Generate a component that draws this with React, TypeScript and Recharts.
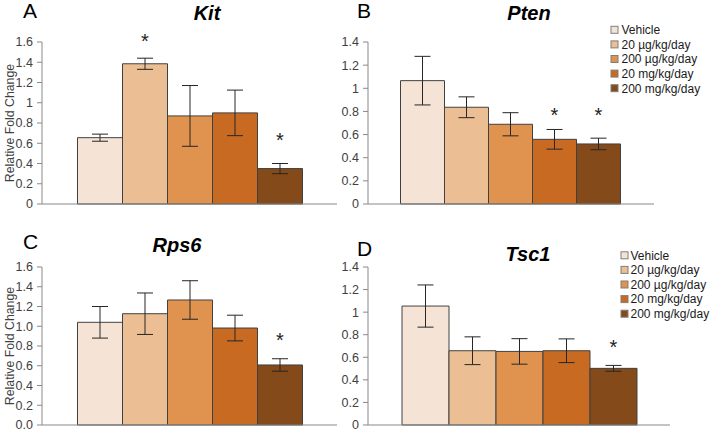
import { BarChart, Bar, XAxis, YAxis, ErrorBar, LabelList, Label } from "recharts";

const categories = ["Vehicle", "20 µg/kg/day", "200 µg/kg/day", "20 mg/kg/day", "200 mg/kg/day"];
const colours = ["#F5E4D6", "#EBBF93", "#E0934F", "#C86A22", "#844A1A"];

// mean fold change, SEM, and height of the significance star (null = none)
const kitMean = [0.655, 1.385, 0.87, 0.9, 0.35];
const kitErr = [0.035, 0.055, 0.3, 0.225, 0.05];
const kitStars = [null, 1.65, null, null, 0.67];

const ptenMean = [1.066, 0.836, 0.689, 0.559, 0.519];
const ptenErr = [0.21, 0.09, 0.1, 0.085, 0.05];
const ptenStars = [null, null, null, 0.8, 0.8];

const rps6Mean = [1.04, 1.127, 1.266, 0.982, 0.608];
const rps6Err = [0.16, 0.21, 0.195, 0.13, 0.063];
const rps6Stars = [null, null, null, null, 0.905];

const tsc1Mean = [1.054, 0.658, 0.652, 0.658, 0.502];
const tsc1Err = [0.187, 0.123, 0.113, 0.105, 0.026];
const tsc1Stars = [null, null, null, null, 0.728];

const ticks16 = [0, 0.2, 0.4, 0.6, 0.8, 1, 1.2, 1.4, 1.6];
const ticks14 = [0, 0.2, 0.4, 0.6, 0.8, 1, 1.2, 1.4];

const FONT = "'Liberation Sans', Arial, sans-serif";
const AXIS = "#898989";

const general = (v: number) => String(+v.toFixed(1));
const oneDecimal = (v: number) => v.toFixed(1);

function starContent(level: number | null) {
  return (props: any) => {
    if (level == null) return null;
    const x = Number(props.x);
    const y = Number(props.y);
    const w = Number(props.width);
    const h = Number(props.height);
    const v = Number(props.value);
    const yc = y + h - (level * h) / v;
    return (
      <text x={x + w / 2} y={yc + 11} textAnchor="middle" fontSize={20} fill="#222" fontFamily={FONT}>
        *
      </text>
    );
  };
}

function Panel(Props: {
  gene: string;
  mean: number[];
  err: number[];
  stars: (number | null)[];
  left: number;
  top: number;
  width: number;
  height: number;
  margin: { top: number; right: number; bottom: number; left: number };
  yWidth: number;
  ticks: number[];
  fmt: (v: number) => string;
  gap: number;
  yLabel: boolean;
}) {
  const row: any = { gene: Props.gene };
  Props.mean.forEach((m, i) => {
    row[`s${i}`] = m;
    row[`e${i}`] = Props.err[i];
  });
  const max = Props.ticks[Props.ticks.length - 1];

  return (
    <div style={{ position: "absolute", left: Props.left, top: Props.top }}>
      <BarChart
        width={Props.width}
        height={Props.height}
        data={[row]}
        margin={Props.margin}
        barGap={0}
        barCategoryGap={Props.gap}
      >
        <XAxis dataKey="gene" tick={false} tickLine={false} axisLine={{ stroke: AXIS }} height={1} />
        <YAxis
          width={Props.yWidth}
          domain={[0, max]}
          ticks={Props.ticks}
          interval={0}
          tickFormatter={Props.fmt}
          axisLine={{ stroke: AXIS }}
          tickLine={{ stroke: AXIS }}
          tickSize={5}
          tickMargin={4}
          tick={{ fill: "#404040", fontSize: 12.5, fontFamily: FONT }}
        >
          {Props.yLabel && (
            <Label
              content={(p: any) => {
                const vb = p.viewBox || {};
                const cy = (vb.y || 0) + (vb.height || 0) / 2;
                return (
                  <text
                    x={10}
                    y={cy}
                    transform={`rotate(-90, 10, ${cy})`}
                    textAnchor="middle"
                    dominantBaseline="central"
                    fontSize={12.3}
                    fill="#404040"
                    fontFamily={FONT}
                  >
                    Relative Fold Change
                  </text>
                );
              }}
            />
          )}
        </YAxis>
        {categories.map((c, i) => (
          <Bar
            key={c}
            dataKey={`s${i}`}
            name={c}
            fill={colours[i]}
            stroke="#404040"
            strokeWidth={1}
            isAnimationActive={false}
          >
            <ErrorBar dataKey={`e${i}`} width={8} stroke="#262626" strokeWidth={1} />
            <LabelList dataKey={`s${i}`} content={starContent(Props.stars[i])} />
          </Bar>
        ))}
      </BarChart>
    </div>
  );
}

function DoseLegend(Props: { x: number; y: number; textX: number }) {
  return (
    <g>
      {categories.map((c, i) => {
        const cy = Props.y + i * 14.6;
        return (
          <g key={c}>
            <rect x={Props.x} y={cy - 3.5} width={7} height={7} fill={colours[i]} stroke="#7f7f7f" strokeWidth={1} />
            <text x={Props.textX} y={cy + 4.3} fontSize={12} fill="#1a1a1a" fontFamily={FONT}>
              {c}
            </text>
          </g>
        );
      })}
    </g>
  );
}

export default function App() {
  const titleStyle = { fontSize: 20, fontWeight: 700, fontStyle: "italic", fill: "#000", fontFamily: FONT } as any;
  const letterStyle = { fontSize: 21, fill: "#000", fontFamily: FONT } as any;

  return (
    <div style={{ position: "absolute", left: 0, top: 0, width: 712, height: 433, background: "#fff", overflow: "hidden" }}>
      <Panel
        gene="Kit"
        mean={kitMean}
        err={kitErr}
        stars={kitStars}
        left={0}
        top={0}
        width={340}
        height={210}
        margin={{ top: 42, right: 3, bottom: 5, left: 0 }}
        yWidth={42}
        ticks={ticks16}
        fmt={general}
        gap={35.5}
        yLabel
      />
      <Panel
        gene="Pten"
        mean={ptenMean}
        err={ptenErr}
        stars={ptenStars}
        left={316}
        top={0}
        width={340}
        height={210}
        margin={{ top: 42, right: 2, bottom: 5, left: 0 }}
        yWidth={52}
        ticks={ticks14}
        fmt={general}
        gap={32.5}
        yLabel={false}
      />
      <Panel
        gene="Rps6"
        mean={rps6Mean}
        err={rps6Err}
        stars={rps6Stars}
        left={0}
        top={214}
        width={340}
        height={219}
        margin={{ top: 53, right: 3, bottom: 7, left: 0 }}
        yWidth={42}
        ticks={ticks16}
        fmt={oneDecimal}
        gap={35.5}
        yLabel
      />
      <Panel
        gene="Tsc1"
        mean={tsc1Mean}
        err={tsc1Err}
        stars={tsc1Stars}
        left={316}
        top={214}
        width={356}
        height={219}
        margin={{ top: 53, right: 2, bottom: 7, left: 0 }}
        yWidth={52}
        ticks={ticks14}
        fmt={general}
        gap={34}
        yLabel={false}
      />
      <svg width={712} height={433} style={{ position: "absolute", left: 0, top: 0, pointerEvents: "none" }}>
        <text x={23} y={18} style={letterStyle}>A</text>
        <text x={207} y={20} textAnchor="middle" style={titleStyle}>Kit</text>
        <text x={357} y={18} style={letterStyle}>B</text>
        <text x={529} y={20} textAnchor="middle" style={titleStyle}>Pten</text>
        <text x={23} y={249} style={letterStyle}>C</text>
        <text x={177} y={252} textAnchor="middle" style={titleStyle}>Rps6</text>
        <text x={357} y={256} style={letterStyle}>D</text>
        <text x={528} y={261} textAnchor="middle" style={titleStyle}>Tsc1</text>
        <DoseLegend x={611} y={29.8} textX={621.5} />
        <DoseLegend x={621} y={255.3} textX={630.5} />
      </svg>
    </div>
  );
}
